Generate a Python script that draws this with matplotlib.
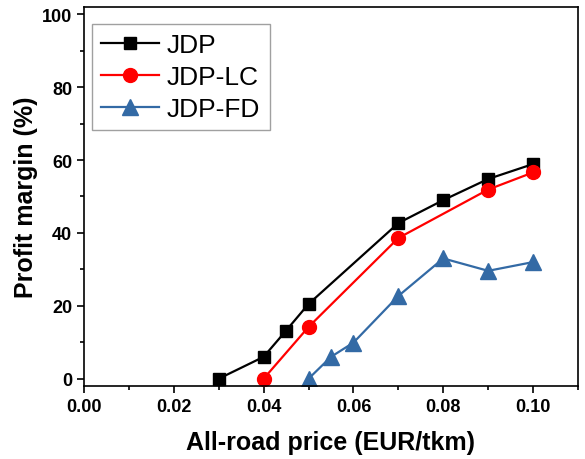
import matplotlib.pyplot as plt
from matplotlib.ticker import MultipleLocator

plt.rcParams['font.family'] = ['Liberation Sans', 'DejaVu Sans']

# data
price_jdp = [0.03, 0.04, 0.045, 0.05, 0.07, 0.08, 0.09, 0.10]
margin_jdp = [0.0, 6.0, 13.2, 20.5, 42.7, 49.0, 54.8, 58.9]

price_lc = [0.04, 0.05, 0.07, 0.09, 0.10]
margin_lc = [0.0, 14.2, 38.6, 51.9, 56.6]

price_fd = [0.05, 0.055, 0.06, 0.07, 0.08, 0.09, 0.10]
margin_fd = [0.0, 6.0, 9.9, 22.7, 33.0, 29.6, 32.0]

fig = plt.figure(figsize=(5.85, 4.6), dpi=100)
ax = fig.add_axes([0.1436, 0.1587, 0.8444, 0.824])

ax.plot(price_jdp, margin_jdp, color='black', marker='s', markersize=9, linewidth=1.6, label='JDP')
ax.plot(price_lc, margin_lc, color='#ff0000', marker='o', markersize=10, linewidth=1.6, label='JDP-LC')
ax.plot(price_fd, margin_fd, color='#336aa5', marker='^', markersize=11, linewidth=1.6, label='JDP-FD')

ax.set_xlim(0, 0.11)
ax.set_ylim(-2, 102)
ax.xaxis.set_major_locator(MultipleLocator(0.02))
ax.xaxis.set_minor_locator(MultipleLocator(0.01))
ax.yaxis.set_major_locator(MultipleLocator(20))
ax.yaxis.set_minor_locator(MultipleLocator(10))
ax.xaxis.set_major_formatter(plt.FormatStrFormatter('%.2f'))

ax.tick_params(which='major', direction='out', length=5, width=1.2, labelsize=13)
ax.tick_params(which='minor', direction='out', length=3, width=1.2)
for lab in ax.get_xticklabels() + ax.get_yticklabels():
    lab.set_fontweight('bold')
for sp in ax.spines.values():
    sp.set_linewidth(1.2)

ax.set_xlabel('All-road price (EUR/tkm)', fontsize=18, fontweight='bold', labelpad=11)
ax.set_ylabel('Profit margin (%)', fontsize=18, fontweight='bold', labelpad=3)

leg = ax.legend(loc='upper left', bbox_to_anchor=(0.016, 0.955), borderaxespad=0,
                fontsize=19, handlelength=2.2, fancybox=False,
                labelspacing=0.3, handletextpad=0.3, borderpad=0.35)
leg.get_frame().set_edgecolor('#888888')
leg.get_frame().set_linewidth(1.0)

fig.savefig('out.png', dpi=100)
